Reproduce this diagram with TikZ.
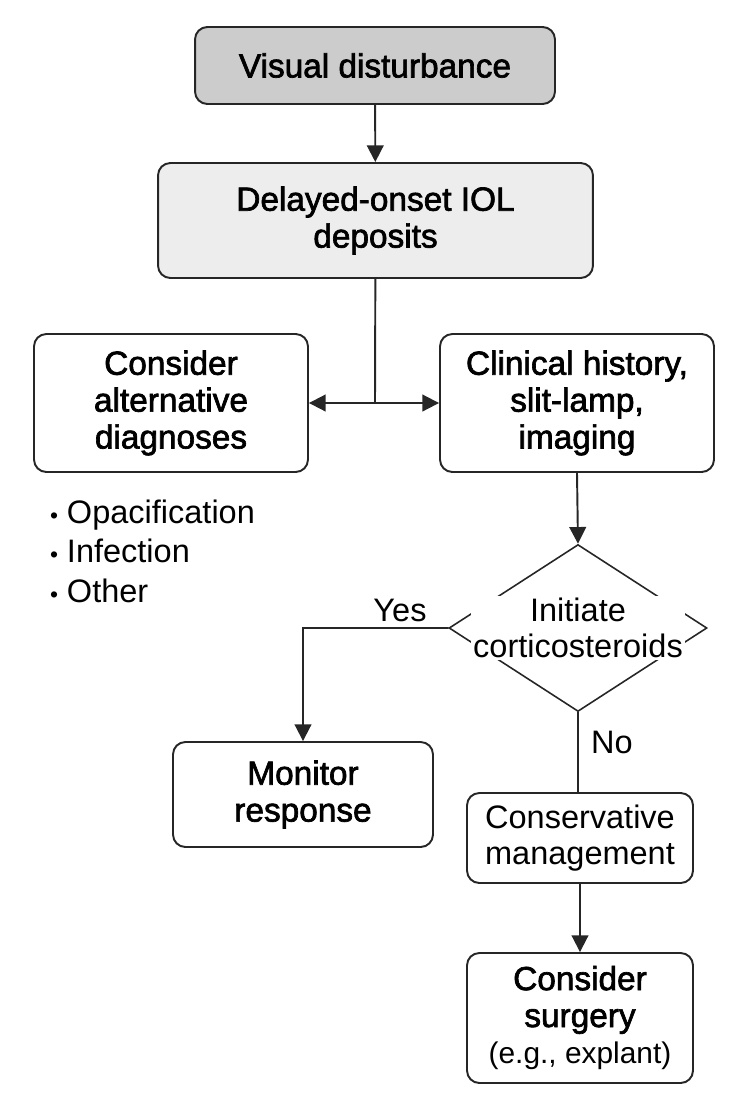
\documentclass[tikz,border=0pt]{standalone}
\usepackage{fontspec}
\setmainfont{Liberation Sans}
\newfontfamily\semifont[FakeBold=2]{Liberation Sans}
\usetikzlibrary{arrows.meta,shapes.geometric}
\newcommand\dotitem{{\fontsize{13}{13}\selectfont•}\hspace{5pt}}

\begin{document}
\begin{tikzpicture}[x=0.02cm,y=-0.02cm,>={Triangle[length=9.5pt,width=9.5pt]},line cap=round,
  box/.style={draw=black!85,line width=1.1pt,rounded corners=7pt,align=center,inner sep=2pt,font=\semifont\fontsize{19}{21}\selectfont},
  plain/.style={font=\fontsize{18.5}{20.5}\selectfont},
  link/.style={draw=black!85,line width=1.1pt}]
\useasboundingbox (0,0) rectangle (750,1099);
\node[box,fill=black!20,minimum width=7.2cm,minimum height=1.54cm] (vis) at (375,65.5) {Visual disturbance};
\node[box,fill=black!7,minimum width=8.7cm,minimum height=2.3cm] (iol) at (375.5,220.5) {Delayed-onset IOL\\deposits};
\node[box,minimum width=5.48cm,minimum height=2.76cm] (alt) at (171,403) {Consider\\alternative\\diagnoses};
\node[box,minimum width=5.48cm,minimum height=2.76cm] (clin) at (577,403) {Clinical history,\\slit-lamp,\\imaging};
\node[plain,anchor=west,align=left,font=\fontsize{18.5}{22.5}\selectfont] (alts) at (44,551) {\dotitem Opacification\\\dotitem Infection\\\dotitem Other};
\node[draw=black!85,line width=0.9pt,diamond,inner sep=0pt,minimum width=5.16cm,minimum height=3.34cm] (dec) at (578,628) {};
\node[plain,fill=white,align=center,inner sep=1pt] (dectxt) at (dec.center) {Initiate\\corticosteroids};
\node[box,minimum width=5.2cm,minimum height=2.1cm] (mon) at (303,794.5) {Monitor\\response};
\node[box,minimum width=4.52cm,minimum height=1.8cm,font=\fontsize{18.5}{20.5}\selectfont] (cons) at (580,838) {Conservative\\management};
\node[box,minimum width=4.52cm,minimum height=2.6cm] (surg) at (580,1018) {Consider\\surgery\\{\normalfont\fontsize{17}{20}\selectfont(e.g., explant)}};
\node[plain] (yes) at (400,610) {Yes};
\node[plain] (no) at (612,742) {No};
\coordinate (split) at (375,403);
\draw[link,->] (vis) -- (iol);
\draw[link] (iol) -- (split);
\draw[link,->] (split) -- (alt);
\draw[link,->] (split) -- (clin);
\draw[link,->] (clin.south) -- (dec.north);
\draw[link,->] (dec.west) -| (mon.north);
\draw[link] (dec.south) -- (dec.south |- cons.north);
\draw[link,->] (cons) -- (surg);
\end{tikzpicture}
\end{document}
